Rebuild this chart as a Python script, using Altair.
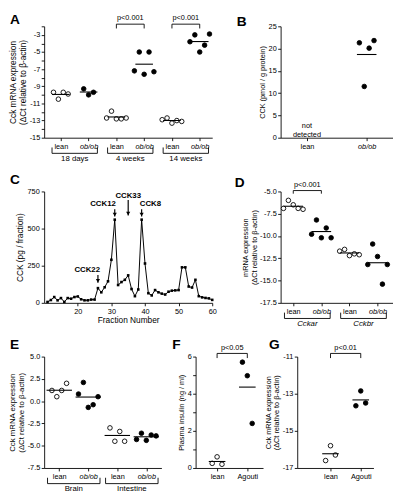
import altair as alt
import pandas as pd

FONT = "Liberation Sans"
H = 114
LAB = 7.5
MINUS = "\u2212"

# ---------------- data ----------------
A_groups = ["18 days", "4 weeks", "14 weeks"]
A_lean = [[-9.7, -10.5, -9.7, -9.9],
          [-12.7, -11.9, -12.8, -12.8, -12.7],
          [-12.9, -12.7, -13.3, -13.0, -13.1]]
A_obob = [[-9.3, -10.0, -9.7],
          [-7.2, -5.0, -7.6, -5.0, -7.3],
          [-3.8, -3.0, -5.0, -4.2, -2.9]]
A_p = ["", "p<0.001", "p<0.001"]

B_labels = ["lean", "ob/ob"]
B_obob = [21.3, 11.5, 20.1, 21.8]
B_note = "not detected"

C_fraction = list(range(11, 61))
C_cck = [6, 19, 39, 17, 32, 6, 32, 28, 39, 43,
         24, 17, 17, 22, 22, 99, 71, 105, 145, 290,
         560, 120, 140, 155, 185, 93, 45, 90, 560, 265,
         65, 50, 86, 71, 62, 56, 75, 82, 84, 86,
         239, 239, 110, 103, 155, 45, 37, 33, 30, 20]
C_peaks = ["CCK22", "CCK12", "CCK33", "CCK8"]
C_peak_fraction = [26, 31, 35, 39]

D_groups = ["Cckar", "Cckbr"]
D_lean = [[-6.9, -6.0, -6.5, -6.9, -7.0], [-11.7, -11.5, -12.2, -12.0, -12.1]]
D_obob = [[-9.8, -8.2, -10.2, -9.1, -10.2], [-13.2, -10.9, -12.3, -15.4, -13.2]]
D_p = ["p<0.001", ""]

E_groups = ["Brain", "Intestine"]
E_lean = [[1.2, 0.5, 1.2, 2.0], [-3.0, -4.5, -3.4, -4.5]]
E_obob = [[0.8, 2.1, -0.7, -0.4, 0.5], [-4.3, -3.6, -4.4, -3.8, -3.9]]

F_labels = ["lean", "Agouti"]
F_lean = [0.25, 0.6, 0.2]
F_agouti = [5.7, 4.97, 2.4]
F_p = "p<0.05"

G_labels = ["lean", "Agouti"]
G_lean = [-16.6, -15.8, -16.3]
G_agouti = [-13.65, -12.85, -13.5]
G_p = "p<0.01"


def fix_minus(expr):
    return f"replace({expr}, '{MINUS}', '-')"


def letter_layer(letter, lx, ly):
    return alt.Chart(pd.DataFrame({"t": [letter]})).mark_text(
        align="left", baseline="top", fontSize=14, fontWeight="bold", font=FONT, fill="black"
    ).encode(text="t:N", x=alt.value(lx), y=alt.value(ly))


def dot_panel(letter, lxy, width, xdom, labels, series, ydom, yvals, ylabel_expr, ytitle,
              title_size, mean_len, yfmt=None, groups=None, group_italic=False, group_off=9,
              pairs=None, bracket=None, note=None):
    step_px = width / (xdom[1] - xdom[0])
    spread = 5.0 / step_px
    rows = []
    for i, vals in enumerate(series):
        n = len(vals)
        for r, v in enumerate(vals):
            rows.append({"idx": i, "val": v, "rank": r - (n - 1) / 2,
                         "kind": "open" if labels[i] == "lean" else "solid"})
    df = pd.DataFrame(rows)
    italic_idx = [i for i, l in enumerate(labels) if l == "ob/ob"]
    lab_arr = "[" + ",".join(f"'{l}'" for l in labels) + "]"
    xs = alt.Scale(domain=xdom, nice=False, zero=False)
    ys = alt.Scale(domain=ydom, nice=False, zero=False)
    xax = alt.Axis(values=list(range(len(labels))), title=None, grid=False, tickSize=3,
                   labelPadding=2, labelFontSize=LAB, labelExpr=f"{lab_arr}[datum.value]",
                   labelFontStyle={"condition": {"test": f"indexof({italic_idx}, datum.value) >= 0",
                                                 "value": "italic"}, "value": "normal"},
                   labelFlush=False, labelOverlap=False)
    yargs = dict(values=yvals, title=ytitle, grid=False, tickSize=3, labelPadding=1.5,
                 titlePadding=1.5, titleFontSize=title_size, titleLineHeight=title_size + 1.5,
                 labelExpr=ylabel_expr, labelFlush=False, labelOverlap=False, labelFontSize=LAB)
    if yfmt:
        yargs["format"] = yfmt
    yax = alt.Axis(**yargs)

    def X(f):
        return alt.X(f, scale=xs, axis=xax)

    def Y(f):
        return alt.Y(f, scale=ys, axis=yax)

    layers = []
    layers.append(alt.Chart(df).transform_calculate(
        xj=f"datum.idx + datum.rank * {spread}"
    ).mark_circle(size=22, stroke="black", strokeWidth=0.9, opacity=1).encode(
        x=X("xj:Q"), y=Y("val:Q"),
        fill=alt.Fill("kind:N", scale=alt.Scale(domain=["open", "solid"], range=["white", "black"]),
                      legend=None)))
    layers.append(alt.Chart(df).mark_tick(orient="horizontal", size=mean_len, thickness=1.1,
                                          color="black").encode(x=X("idx:Q"), y=Y("mean(val):Q")))
    if note is not None:
        ndf = pd.DataFrame({"idx": [note[0]], "y": [note[1]], "t": [note[2]]})
        layers.append(alt.Chart(ndf).mark_text(fontSize=LAB, lineBreak=" ", lineHeight=9,
                                               font=FONT, fill="black").encode(
            x=X("idx:Q"), y=Y("y:Q"), text="t:N"))
    if pairs:
        yb, yb2 = bracket
        pdf = pd.DataFrame({"i0": [p[0] for p in pairs], "i1": [p[1] for p in pairs],
                            "p": [p[2] for p in pairs], "yb": yb, "yb2": yb2})
        layers.append(alt.Chart(pdf).mark_rule(color="black", strokeWidth=0.9).encode(
            x=X("i0:Q"), x2="i1:Q", y=Y("yb:Q")))
        layers.append(alt.Chart(pdf).mark_rule(color="black", strokeWidth=0.9).encode(
            x=X("i0:Q"), y=Y("yb:Q"), y2="yb2:Q"))
        layers.append(alt.Chart(pdf).mark_rule(color="black", strokeWidth=0.9).encode(
            x=X("i1:Q"), y=Y("yb:Q"), y2="yb2:Q"))
        layers.append(alt.Chart(pdf).transform_calculate(mid="(datum.i0 + datum.i1) / 2").mark_text(
            fontSize=LAB, baseline="bottom", dy=-2, font=FONT, fill="black").encode(
            x=X("mid:Q"), y=Y("yb:Q"), text="p:N"))
    if groups:
        gdf = pd.DataFrame({"g": groups, "i0": [2 * k for k in range(len(groups))],
                            "i1": [2 * k + 1 for k in range(len(groups))]})
        layers.append(alt.Chart(gdf).mark_rule(color="black", strokeWidth=0.9, xOffset=-group_off,
                                               x2Offset=group_off).encode(
            x=X("i0:Q"), x2="i1:Q", y=alt.value(H + 16)))
        layers.append(alt.Chart(gdf).mark_rule(color="black", strokeWidth=0.9,
                                               xOffset=-group_off).encode(
            x=X("i0:Q"), y=alt.value(H + 10), y2=alt.value(H + 16)))
        layers.append(alt.Chart(gdf).mark_rule(color="black", strokeWidth=0.9,
                                               xOffset=group_off).encode(
            x=X("i1:Q"), y=alt.value(H + 10), y2=alt.value(H + 16)))
        layers.append(alt.Chart(gdf).transform_calculate(mid="(datum.i0 + datum.i1) / 2").mark_text(
            fontSize=8, baseline="top", font=FONT, fill="black",
            fontStyle="italic" if group_italic else "normal").encode(
            x=X("mid:Q"), y=alt.value(H + 17.5), text="g:N"))
    layers.append(letter_layer(letter, *lxy))
    return alt.layer(*layers).properties(width=width, height=H)


two_line = ["Cck mRNA expression", "(\u0394Ct relative to \u03b2-actin)"]

# Panel A
A_series = []
A_labels = []
for k in range(3):
    A_series += [A_lean[k], A_obob[k]]
    A_labels += ["lean", "ob/ob"]
A_pairs = [(2 * k, 2 * k + 1, A_p[k]) for k in range(3) if A_p[k]]
panelA = dot_panel("A", (-35, -13), 172, [-0.6, 5.45], A_labels, A_series, [-15, -2],
                   list(range(-15, -1)),
                   f"datum.value % 2 == 0 ? '' : {fix_minus('datum.label')}",
                   two_line, 8.5, 18, groups=A_groups, pairs=A_pairs, bracket=(-1.75, -2.25))

# Panel B
panelB = dot_panel("B", (-45, -11), 115, [-0.44, 1.44], B_labels, [[], B_obob], [0, 25],
                   [0, 5, 10, 15, 20, 25], "datum.label", "CCK (pmol / g protein)", 7.5, 20,
                   note=(0, 2.6, B_note))

# Panel C
dfC = pd.DataFrame({"fraction": C_fraction, "cck": C_cck})
xsC = alt.Scale(domain=[10, 60], nice=False, zero=False)
ysC = alt.Scale(domain=[0, 750], nice=False)
xaxC = alt.Axis(values=[20, 30, 40, 50, 60], title="Fraction Number", grid=False, tickSize=3,
                labelPadding=2, titlePadding=1, titleFontSize=8.5, labelFlush=False,
                labelFontSize=LAB, labelOverlap=False)
yaxC = alt.Axis(values=[0, 250, 500, 750], title="CCK (pg / fraction)", grid=False, tickSize=3,
                labelPadding=2, titlePadding=3, titleFontSize=8.5, labelFlush=False,
                labelFontSize=LAB, labelOverlap=False)
XC = lambda f: alt.X(f, scale=xsC, axis=xaxC)
YC = lambda f: alt.Y(f, scale=ysC, axis=yaxC)
peak_df = pd.DataFrame({"name": C_peaks, "fraction": C_peak_fraction,
                        "ylab": [222, 664, 722, 664], "ytop": [188, 631, 692, 631],
                        "ytip": [136, 582, 588, 582], "dx": [-11, -12, 0, 9]})
label_layers = [
    alt.Chart(peak_df.iloc[[i]]).mark_text(fontSize=8, fontWeight="bold", font=FONT, fill="black",
                                            dx=int(peak_df["dx"].iloc[i])).encode(
        x=XC("fraction:Q"), y=YC("ylab:Q"), text="name:N")
    for i in range(len(peak_df))
]
panelC = alt.layer(
    alt.Chart(dfC).mark_line(color="black", strokeWidth=1).encode(x=XC("fraction:Q"), y=YC("cck:Q")),
    alt.Chart(dfC).mark_square(color="black", size=7, opacity=1).encode(x=XC("fraction:Q"), y=YC("cck:Q")),
    alt.Chart(peak_df).mark_rule(color="black", strokeWidth=1.2).encode(
        x=XC("fraction:Q"), y=YC("ytop:Q"), y2="ytip:Q"),
    alt.Chart(peak_df).mark_point(shape="triangle-down", filled=True, size=18, color="black",
                                  opacity=1, yOffset=-2).encode(x=XC("fraction:Q"), y=YC("ytip:Q")),
    *label_layers,
    letter_layer("C", -35, -19),
).properties(width=172, height=H)

# Panel D
D_series, D_labels = [], []
for k in range(2):
    D_series += [D_lean[k], D_obob[k]]
    D_labels += ["lean", "ob/ob"]
D_pairs = [(2 * k, 2 * k + 1, D_p[k]) for k in range(2) if D_p[k]]
panelD = dot_panel("D", (-47, -16), 115, [-0.45, 3.55], D_labels, D_series, [-17.5, -5.0],
                   [-17.5, -15.0, -12.5, -10.0, -7.5, -5.0], fix_minus("datum.label"),
                   ["mRNA expression", "(\u0394Ct relative to \u03b2-actin)"], 7.5, 20, yfmt=".1f",
                   groups=D_groups, group_italic=True, pairs=D_pairs, bracket=(-4.9, -5.25))

# Panel E
E_series, E_labels = [], []
for k in range(2):
    E_series += [E_lean[k], E_obob[k]]
    E_labels += ["lean", "ob/ob"]
panelE = dot_panel("E", (-35, -19), 120, [-0.52, 3.52], E_labels, E_series, [-7.5, 5.0],
                   [-7.5, -5.0, -2.5, 0.0, 2.5, 5.0], fix_minus("datum.label"), two_line, 8, 26,
                   yfmt=".1f", groups=E_groups, group_off=12)

# Panel F
panelF = dot_panel("F", (-24, -19), 69, [-0.71, 1.52], F_labels, [F_lean, F_agouti], [0, 6],
                   [0, 1, 2, 3, 4, 5, 6], "datum.value % 2 != 0 ? '' : datum.label",
                   "Plasma insulin (ng / ml)", 7.5, 17, pairs=[(0, 1, F_p)], bracket=(6.17, 5.92))

# Panel G
panelG = dot_panel("G", (-29, -19), 78, [-1.1, 1.42], G_labels, [G_lean, G_agouti], [-17, -11],
                   [-17, -15, -13, -11], fix_minus("datum.label"), two_line, 7.5, 17,
                   pairs=[(0, 1, G_p)], bracket=(-10.83, -11.08))

row1 = alt.hconcat(panelA, panelB, spacing=70, bounds="flush")
row2 = alt.hconcat(panelC, panelD, spacing=70, bounds="flush")
row3 = alt.hconcat(panelE, panelF, panelG, spacing=35, bounds="flush")

chart = alt.vconcat(row1, row2, row3, spacing=10).properties(padding=0).configure(
    font=FONT, background="white"
).configure_view(stroke=None).configure_axis(
    domainColor="black", tickColor="black", labelColor="black", titleColor="black",
    titleFontWeight="normal", domainWidth=0.9, tickWidth=0.9, labelFont=FONT, titleFont=FONT
)

chart.save("out.html", embed_options={"renderer": "svg", "actions": False})
